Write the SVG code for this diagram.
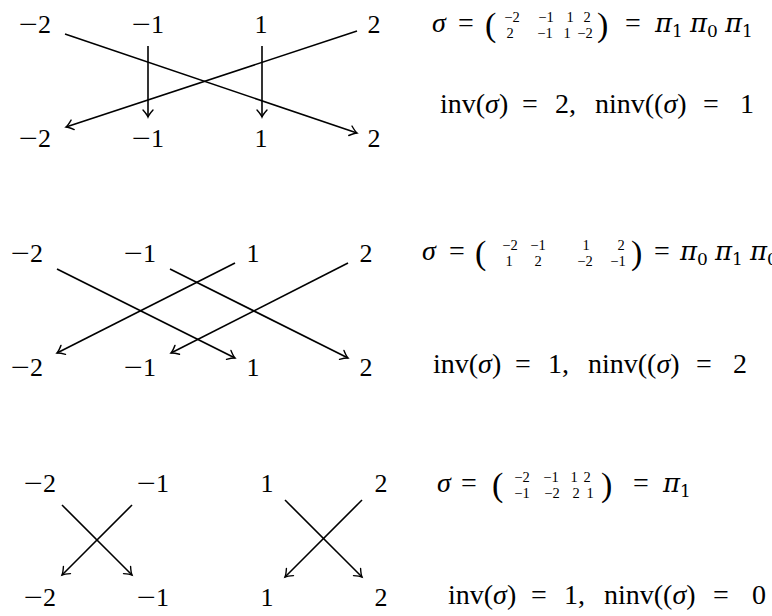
<svg xmlns="http://www.w3.org/2000/svg" width="772" height="616" viewBox="0 0 772 616">
<style>
text{font-family:"Liberation Serif","Times New Roman",serif;fill:#000}
.lab{font-size:26px;text-anchor:middle}
.m{font-size:28px}
.it{font-style:italic}
.pi{font-family:"DejaVu Serif",serif;font-style:italic;font-size:26px}
.sm{font-size:14.5px;text-anchor:middle}
.sub{font-family:"DejaVu Serif",serif;font-size:17px}
.par{font-size:34px}
.c{text-anchor:middle}
.ln{stroke:#000;stroke-width:1.6;fill:none;marker-end:url(#ah)}
</style>
<defs>
<marker id="ah" viewBox="-8 -6 10 12" markerWidth="10" markerHeight="12" refX="0" refY="0" orient="auto" markerUnits="userSpaceOnUse" overflow="visible">
<path d="M-7,-5 Q-2.5,-1 0,0 Q-2.5,1 -7,5" fill="none" stroke="#000" stroke-width="1.4" stroke-linecap="round"/>
</marker>
</defs>

<g id="connectors">
<path class="ln" d="M65,34 L357,133"/>
<path class="ln" d="M357,31 L66,127"/>
<path class="ln" d="M148,46 L148,117"/>
<path class="ln" d="M262,46 L262,117"/>
<path class="ln" d="M57,269 L235,358"/>
<path class="ln" d="M170,269 L348,358"/>
<path class="ln" d="M235,263 L57,353"/>
<path class="ln" d="M348,263 L171,353"/>
<path class="ln" d="M62,505 L132,575"/>
<path class="ln" d="M132,505 L62,575"/>
<path class="ln" d="M285,500 L362,577"/>
<path class="ln" d="M362,500 L285,577"/>
</g>

<g id="p1-top-m2"><text class="lab" x="35" y="33"><tspan textLength="19" lengthAdjust="spacingAndGlyphs">−</tspan>2</text></g>
<g id="p1-top-m1"><text class="lab" x="148" y="33"><tspan textLength="19" lengthAdjust="spacingAndGlyphs">−</tspan>1</text></g>
<g id="p1-top-1"><text class="lab" x="261" y="33">1</text></g>
<g id="p1-top-2"><text class="lab" x="374" y="33">2</text></g>
<g id="p1-bot-m2"><text class="lab" x="35" y="147"><tspan textLength="19" lengthAdjust="spacingAndGlyphs">−</tspan>2</text></g>
<g id="p1-bot-m1"><text class="lab" x="148" y="147"><tspan textLength="19" lengthAdjust="spacingAndGlyphs">−</tspan>1</text></g>
<g id="p1-bot-1"><text class="lab" x="261" y="147">1</text></g>
<g id="p1-bot-2"><text class="lab" x="374" y="147">2</text></g>

<g id="p2-top-m2"><text class="lab" x="27" y="262"><tspan textLength="19" lengthAdjust="spacingAndGlyphs">−</tspan>2</text></g>
<g id="p2-top-m1"><text class="lab" x="140" y="262"><tspan textLength="19" lengthAdjust="spacingAndGlyphs">−</tspan>1</text></g>
<g id="p2-top-1"><text class="lab" x="253" y="262">1</text></g>
<g id="p2-top-2"><text class="lab" x="366" y="262">2</text></g>
<g id="p2-bot-m2"><text class="lab" x="27" y="376"><tspan textLength="19" lengthAdjust="spacingAndGlyphs">−</tspan>2</text></g>
<g id="p2-bot-m1"><text class="lab" x="140" y="376"><tspan textLength="19" lengthAdjust="spacingAndGlyphs">−</tspan>1</text></g>
<g id="p2-bot-1"><text class="lab" x="253" y="376">1</text></g>
<g id="p2-bot-2"><text class="lab" x="366" y="376">2</text></g>

<g id="p3-top-m2"><text class="lab" x="40" y="492"><tspan textLength="19" lengthAdjust="spacingAndGlyphs">−</tspan>2</text></g>
<g id="p3-top-m1"><text class="lab" x="153" y="492"><tspan textLength="19" lengthAdjust="spacingAndGlyphs">−</tspan>1</text></g>
<g id="p3-top-1"><text class="lab" x="267" y="492">1</text></g>
<g id="p3-top-2"><text class="lab" x="381" y="492">2</text></g>
<g id="p3-bot-m2"><text class="lab" x="40" y="606"><tspan textLength="19" lengthAdjust="spacingAndGlyphs">−</tspan>2</text></g>
<g id="p3-bot-m1"><text class="lab" x="153" y="606"><tspan textLength="19" lengthAdjust="spacingAndGlyphs">−</tspan>1</text></g>
<g id="p3-bot-1"><text class="lab" x="267" y="606">1</text></g>
<g id="p3-bot-2"><text class="lab" x="381" y="606">2</text></g>

<g id="p1-sigma"><text class="m" y="32"><tspan x="432" class="it">σ</tspan><tspan x="466" class="c">=</tspan><tspan x="485" y="36" class="par">(</tspan><tspan class="sm" x="512" y="22">−2</tspan><tspan class="sm" x="546" y="22">−1</tspan><tspan class="sm" x="570" y="22">1</tspan><tspan class="sm" x="587" y="22">2</tspan><tspan class="sm" x="510" y="38">2</tspan><tspan class="sm" x="545" y="38">−1</tspan><tspan class="sm" x="567" y="38">1</tspan><tspan class="sm" x="585" y="38">−2</tspan><tspan x="597" y="36" class="par">)</tspan><tspan x="633" y="32" class="c">=</tspan><tspan x="655" y="32" class="pi">π</tspan><tspan class="sub" y="37">1</tspan><tspan x="690" y="32" class="pi">π</tspan><tspan class="sub" y="37">0</tspan><tspan x="725" y="32" class="pi">π</tspan><tspan class="sub" y="37">1</tspan></text></g>
<g id="p1-inv"><text class="m" y="113"><tspan x="440">inv(</tspan><tspan class="it">σ</tspan><tspan>)</tspan><tspan x="522">=</tspan><tspan x="555">2,</tspan><tspan x="595">ninv((</tspan><tspan class="it">σ</tspan><tspan>)</tspan><tspan x="703">=</tspan><tspan x="740">1</tspan></text></g>

<g id="p2-sigma"><text class="m" y="260"><tspan x="422" class="it">σ</tspan><tspan x="457" class="c">=</tspan><tspan x="475" y="264" class="par">(</tspan><tspan class="sm" x="510" y="250">−2</tspan><tspan class="sm" x="538" y="250">−1</tspan><tspan class="sm" x="586" y="250">1</tspan><tspan class="sm" x="621" y="250">2</tspan><tspan class="sm" x="509" y="266">1</tspan><tspan class="sm" x="538" y="266">2</tspan><tspan class="sm" x="585" y="266">−2</tspan><tspan class="sm" x="618" y="266">−1</tspan><tspan x="631" y="264" class="par">)</tspan><tspan x="662" y="260" class="c">=</tspan><tspan x="680" y="260" class="pi">π</tspan><tspan class="sub" y="265">0</tspan><tspan x="715" y="260" class="pi">π</tspan><tspan class="sub" y="265">1</tspan><tspan x="750" y="260" class="pi">π</tspan><tspan class="sub" y="265">0</tspan></text></g>
<g id="p2-inv"><text class="m" y="373"><tspan x="433">inv(</tspan><tspan class="it">σ</tspan><tspan>)</tspan><tspan x="515">=</tspan><tspan x="548">1,</tspan><tspan x="588">ninv((</tspan><tspan class="it">σ</tspan><tspan>)</tspan><tspan x="696">=</tspan><tspan x="733">2</tspan></text></g>

<g id="p3-sigma"><text class="m" y="492"><tspan x="437" class="it">σ</tspan><tspan x="469" class="c">=</tspan><tspan x="492" y="496" class="par">(</tspan><tspan class="sm" x="522" y="482">−2</tspan><tspan class="sm" x="551" y="482">−1</tspan><tspan class="sm" x="574" y="482">1</tspan><tspan class="sm" x="587" y="482">2</tspan><tspan class="sm" x="522" y="498">−1</tspan><tspan class="sm" x="552" y="498">−2</tspan><tspan class="sm" x="576" y="498">2</tspan><tspan class="sm" x="590" y="498">1</tspan><tspan x="601" y="496" class="par">)</tspan><tspan x="641" y="492" class="c">=</tspan><tspan x="663" y="492" class="pi">π</tspan><tspan class="sub" y="497">1</tspan></text></g>
<g id="p3-inv"><text class="m" y="604"><tspan x="448">inv(</tspan><tspan class="it">σ</tspan><tspan>)</tspan><tspan x="531">=</tspan><tspan x="564">1,</tspan><tspan x="604">ninv((</tspan><tspan class="it">σ</tspan><tspan>)</tspan><tspan x="713">=</tspan><tspan x="752">0</tspan></text></g>
</svg>
